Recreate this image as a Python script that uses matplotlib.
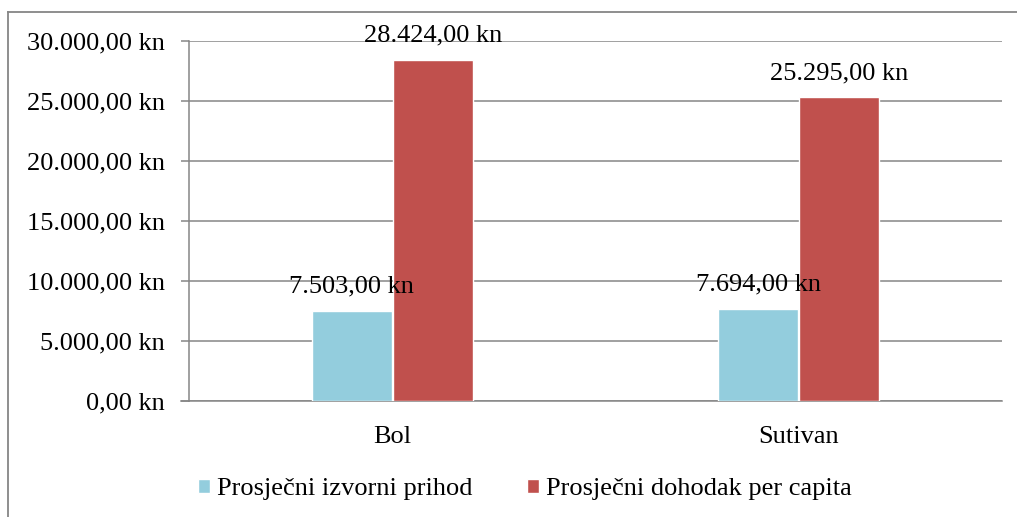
import matplotlib
matplotlib.use("Agg")
import matplotlib.pyplot as plt
from matplotlib.lines import Line2D
import numpy as np

categories = ["Bol", "Sutivan"]
series_names = ["Prosječni izvorni prihod", "Prosječni dohodak per capita"]
izvorni = [7503.0, 7694.0]
dohodak = [28424.0, 25295.0]
yticks = [0, 5000, 10000, 15000, 20000, 25000, 30000]

colors = ["#93CDDD", "#C0504D"]
grey = "#868686"

plt.rcParams['font.family'] = ['Liberation Serif', 'DejaVu Serif']
FS = 19

def fmt(v):
    s = "{:,.2f}".format(v)
    s = s.replace(",", "X").replace(".", ",").replace("X", ".")
    return s + " kn"

W, H = 1017, 517
fig = plt.figure(figsize=(W / 100, H / 100), dpi=100)
ax = fig.add_axes([189 / W, 1 - 401 / H, (1002 - 189) / W, (401 - 41) / H])

x = np.arange(len(categories))
bw = 0.197
off = 0.1
b1 = ax.bar(x - off, izvorni, bw, color=colors[0], edgecolor="white", linewidth=1, zorder=3, label=series_names[0])
b2 = ax.bar(x + off, dohodak, bw, color=colors[1], edgecolor="white", linewidth=1, zorder=3, label=series_names[1])

for bars, vals in ((b1, izvorni), (b2, dohodak)):
    for rect, v in zip(bars, vals):
        ax.annotate(fmt(v), (rect.get_x() + rect.get_width() / 2, v),
                    xytext=(0, 13), textcoords="offset points",
                    ha="center", va="baseline", fontsize=FS, zorder=5)

ax.set_xlim(-0.5, 1.5)
ax.set_ylim(0, 30000)
ax.set_yticks(yticks)
ax.set_yticklabels([fmt(v) for v in yticks], fontsize=FS)
ax.set_xticks(x)
ax.set_xticklabels(categories, fontsize=FS)
ax.tick_params(axis="y", length=5.8, width=1.1, color=grey, pad=11.5)
ax.tick_params(axis="x", length=0, pad=18)
ax.yaxis.grid(True, color=grey, linewidth=1.1, zorder=0)
ax.set_axisbelow(True)
for s in ("top", "right"):
    ax.spines[s].set_visible(False)
for s in ("left", "bottom"):
    ax.spines[s].set_color(grey)
    ax.spines[s].set_linewidth(1.1)
ax.spines["bottom"].set_bounds(-0.5, 1.5)

ax.plot([-0.5 - 8 / 406.5, -0.5], [0, 0], color=grey, lw=1.1, clip_on=False)

# outer border (left and top visible)
fig.add_artist(Line2D([8 / W, 8 / W], [0, 1 - 12 / H], color=grey, lw=1.3, transform=fig.transFigure))
fig.add_artist(Line2D([8 / W, 1], [1 - 12 / H, 1 - 12 / H], color=grey, lw=1.3, transform=fig.transFigure))

fig.legend(handles=[b1, b2], labels=series_names, loc="center",
           bbox_to_anchor=(525 / W, 1 - 489 / H), ncol=2, frameon=False,
           fontsize=FS, handlelength=0.45, handleheight=0.45, handletextpad=0.27,
           columnspacing=2.05, borderpad=0, borderaxespad=0)

fig.savefig("out.png", dpi=100)
